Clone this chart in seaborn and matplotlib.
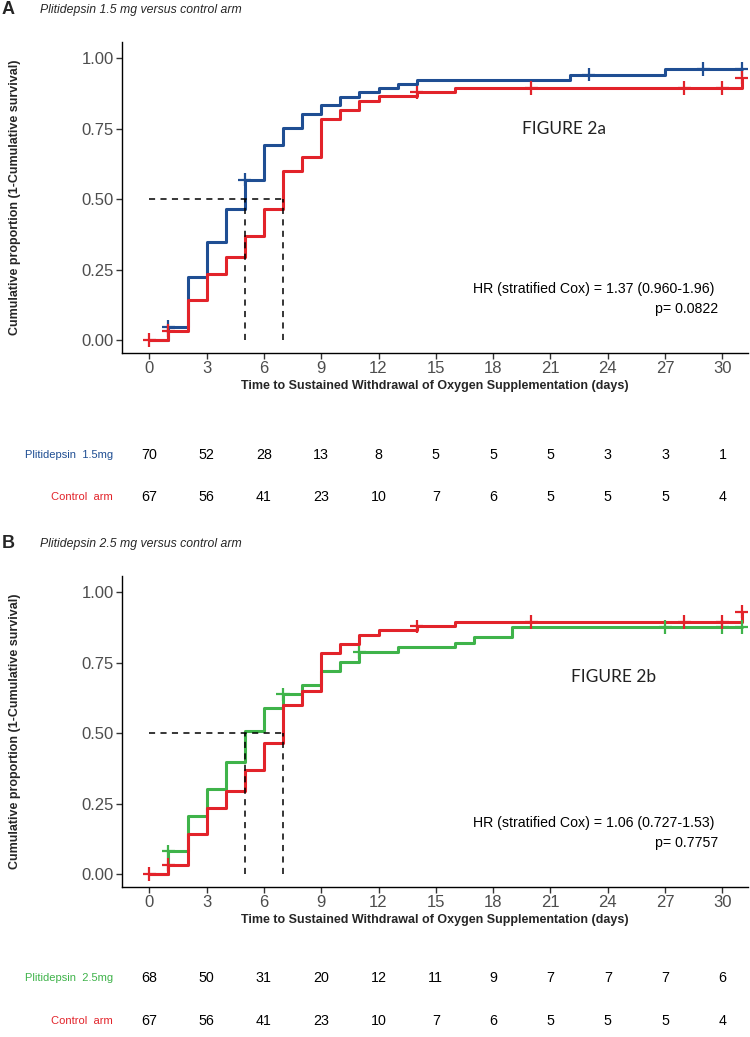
import numpy as np
import pandas as pd
import matplotlib
matplotlib.use("Agg")
import matplotlib.pyplot as plt
import matplotlib.transforms as mtransforms
import seaborn as sns

# ---------------- data ----------------
# Panel A : Plitidepsin 1.5 mg
p15_times = [0, 1, 2, 3, 4, 5, 6, 7, 8, 9, 10, 11, 12, 13, 14, 22, 27, 31]
p15_props = [0, 0.047, 0.225, 0.346, 0.464, 0.568, 0.691, 0.753, 0.800, 0.832,
             0.863, 0.879, 0.893, 0.909, 0.924, 0.941, 0.961, 0.961]
p15_censor = [1, 5, 23, 29, 31]

# Control arm (same in both panels)
ctrl_times = [0, 1, 2, 3, 4, 5, 6, 7, 8, 9, 10, 11, 12, 14, 16, 31]
ctrl_props = [0, 0.033, 0.142, 0.233, 0.295, 0.369, 0.464, 0.601, 0.649, 0.785,
              0.817, 0.848, 0.864, 0.878, 0.894, 0.931]
ctrl_censor = [0, 1, 14, 20, 28, 30, 31]

# Panel B : Plitidepsin 2.5 mg
p25_times = [0, 1, 2, 3, 4, 5, 6, 7, 8, 9, 10, 11, 13, 16, 17, 19, 31]
p25_props = [0, 0.080, 0.207, 0.302, 0.398, 0.509, 0.588, 0.637, 0.669, 0.719,
             0.751, 0.786, 0.804, 0.821, 0.841, 0.876, 0.876]
p25_censor = [1, 7, 11, 27, 30, 31]

# medians (days)
medA = [5, 7]
medB = [5, 7]

# numbers at risk
risk_times = [0, 3, 6, 9, 12, 15, 18, 21, 24, 27, 30]
risk_p15 = [70, 52, 28, 13, 8, 5, 5, 5, 3, 3, 1]
risk_ctrl = [67, 56, 41, 23, 10, 7, 6, 5, 5, 5, 4]
risk_p25 = [68, 50, 31, 20, 12, 11, 9, 7, 7, 7, 6]

x_ticks = [0, 3, 6, 9, 12, 15, 18, 21, 24, 27, 30]
y_ticks = [0.00, 0.25, 0.50, 0.75, 1.00]

BLUE = "#1f4e93"
RED = "#e2232a"
GREEN = "#3fb34a"

# ---------------- style ----------------
sns.set_style("ticks")
plt.rcParams["font.family"] = ["Liberation Sans", "DejaVu Sans"]

W, H = 750, 1037
fig = plt.figure(figsize=(W / 100, H / 100), dpi=100)


def step_at(times, props, t):
    i = np.searchsorted(times, t, side="right") - 1
    return props[i]


def panel(top_px, bot_px, arm_name, arm_times, arm_props, arm_censor, arm_color,
          med, hr_text, p_text, fig_label, fig_xy, letter, subtitle,
          risk_arm, risk_label, row_px):
    ax = fig.add_axes([122 / W, 1 - bot_px / H, (748 - 122) / W, (bot_px - top_px) / H])
    lines = pd.concat([
        pd.DataFrame({"time": arm_times, "prop": arm_props, "arm": arm_name}),
        pd.DataFrame({"time": ctrl_times, "prop": ctrl_props, "arm": "Control arm"}),
    ])
    pal = {arm_name: arm_color, "Control arm": RED}
    sns.lineplot(data=lines, x="time", y="prop", hue="arm", palette=pal,
                 drawstyle="steps-post", linewidth=2.2, legend=False,
                 estimator=None, sort=False, ax=ax)
    cens = pd.concat([
        pd.DataFrame({"time": arm_censor,
                      "prop": [step_at(arm_times, arm_props, t) for t in arm_censor],
                      "arm": arm_name}),
        pd.DataFrame({"time": ctrl_censor,
                      "prop": [step_at(ctrl_times, ctrl_props, t) for t in ctrl_censor],
                      "arm": "Control arm"}),
    ])
    sns.scatterplot(data=cens, x="time", y="prop", hue="arm", palette=pal,
                    marker="+", s=90, linewidth=1.6, legend=False, ax=ax, zorder=4)
    # median lines
    ax.plot([0, max(med)], [0.5, 0.5], ls=(0, (4, 3.5)), color="black", lw=1.1, zorder=5)
    for m in med:
        ax.plot([m, m], [0, 0.5], ls=(0, (4, 3.5)), color="black", lw=1.1, zorder=5)

    ax.set_xlim(-1.43, 31.34)
    ax.set_ylim(-0.046, 1.057)
    ax.set_xticks(x_ticks)
    ax.set_yticks(y_ticks)
    ax.set_yticklabels([f"{v:.2f}" for v in y_ticks])
    ax.tick_params(axis="both", labelsize=12, colors="#4d4d4d", length=4,
                   width=1, pad=2)
    ax.tick_params(axis="both", color="#333333")
    for s in ["top", "right"]:
        ax.spines[s].set_visible(False)
    for s in ["left", "bottom"]:
        ax.spines[s].set_color("black")
        ax.spines[s].set_linewidth(1.0)
    ax.set_xlabel("Time to Sustained Withdrawal of Oxygen Supplementation (days)",
                  fontsize=9, fontweight="bold", labelpad=2.5)
    ax.set_ylabel("Cumulative proportion (1-Cumulative survival)",
                  fontsize=9, fontweight="bold", labelpad=2)
    ax.yaxis.set_label_coords(-(122 - 21) / (748 - 122), 0.5)

    ax.text(29.6, 0.18, hr_text, ha="right", va="center", fontsize=10.2, color="black")
    ax.text(29.8, 0.11, p_text, ha="right", va="center", fontsize=10.2, color="black")
    ax.text(fig_xy[0], fig_xy[1], fig_label, ha="center", va="center",
            fontsize=12.5, family=["Lato", "DejaVu Sans"], color="#222222")

    # panel letter + subtitle
    fig.text(2 / W, 1 - (top_px - 32) / H, letter, ha="left", va="center",
             fontsize=13, fontweight="bold")
    fig.text(40 / W, 1 - (top_px - 32) / H, subtitle, ha="left", va="center",
             fontsize=8.8, style="italic")

    # risk table
    tr = mtransforms.blended_transform_factory(ax.transData, fig.transFigure)
    rows = [(risk_arm, risk_label, arm_color), (risk_ctrl, "Control  arm", RED)]
    for (vals, lab, col), ypx in zip(rows, row_px):
        fig.text(113 / W, 1 - ypx / H, lab, ha="right", va="center",
                 fontsize=8, color=col)
        for t, v in zip(risk_times, vals):
            ax.text(t, 1 - ypx / H, str(v), transform=tr, ha="center",
                    va="center", fontsize=10.3, color="black", clip_on=False)
    return ax


panel(42, 353, "Plitidepsin 1.5mg", p15_times, p15_props, p15_censor, BLUE,
      medA, "HR (stratified Cox) = 1.37 (0.960-1.96)", "p= 0.0822",
      "FIGURE 2a", (21.7, 0.75), "A", "Plitidepsin 1.5 mg versus control arm",
      risk_p15, "Plitidepsin  1.5mg", (455, 497))

panel(576, 887, "Plitidepsin 2.5mg", p25_times, p25_props, p25_censor, GREEN,
      medB, "HR (stratified Cox) = 1.06 (0.727-1.53)", "p= 0.7757",
      "FIGURE 2b", (24.3, 0.70), "B", "Plitidepsin 2.5 mg versus control arm",
      risk_p25, "Plitidepsin  2.5mg", (978, 1021))

fig.savefig("out.png", dpi=100)
